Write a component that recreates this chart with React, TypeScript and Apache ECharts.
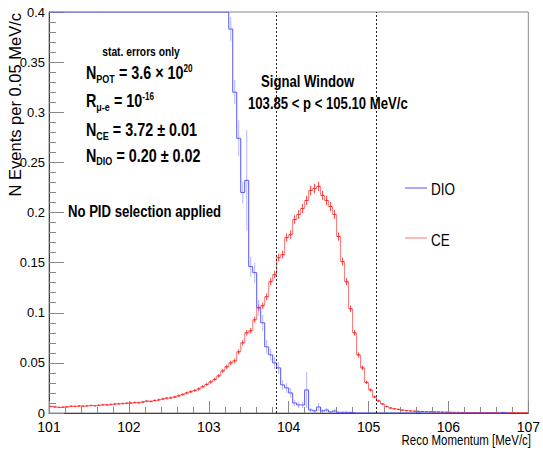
import React, { useEffect, useRef } from 'react';
import * as echarts from 'echarts';

const FR = "'Liberation Sans', Arial, sans-serif";
const SQUEEZE = 0.82;

const xMin = 101;
const xMax = 107;
const binWidth = 0.05;
const windowLow = 103.85;
const windowHigh = 105.1;

// DIO histogram (clipped at the frame top, 0.4, below 103.25 MeV/c)
const dioValues = [
  0.4, 0.4, 0.4, 0.4, 0.4, 0.4, 0.4, 0.4, 0.4, 0.4, 0.4, 0.4, 0.4, 0.4, 0.4,
  0.4, 0.4, 0.4, 0.4, 0.4, 0.4, 0.4, 0.4, 0.4, 0.4, 0.4, 0.4, 0.4, 0.4, 0.4,
  0.4, 0.4, 0.4, 0.4, 0.4, 0.4, 0.4, 0.4, 0.4, 0.4, 0.4, 0.4, 0.4, 0.4, 0.4,
  0.383, 0.320, 0.274, 0.220, 0.232, 0.146, 0.140, 0.105, 0.090, 0.066,
  0.058, 0.050, 0.045, 0.028, 0.025, 0.020, 0.010, 0.008, 0.008, 0.023,
  0.003, 0.002, 0.006, 0.002, 0.003, 0.001, 0.002, 0.0007, 0.0007, 0.0007,
  0.0005, 0, 0, 0, 0, 0, 0, 0, 0, 0,
  0, 0, 0, 0, 0, 0, 0, 0.0008, 0, 0,
  0, 0, 0, 0, 0, 0, 0, 0, 0, 0,
  0, 0, 0, 0, 0, 0, 0, 0, 0.0006, 0,
];
const dioErrors = [
  0, 0, 0, 0, 0, 0, 0, 0, 0, 0, 0, 0, 0, 0, 0,
  0, 0, 0, 0, 0, 0, 0, 0, 0, 0, 0, 0, 0, 0, 0,
  0, 0, 0, 0, 0, 0, 0, 0, 0, 0, 0, 0, 0, 0, 0,
  0.012, 0.012, 0.018, 0.011, 0.05, 0.01, 0.01, 0.008, 0.008, 0.007,
  0.006, 0.006, 0.006, 0.005, 0.005, 0.005, 0.003, 0.003, 0.003, 0.018,
  0.002, 0.002, 0.004, 0.002, 0.002, 0.001, 0.002, 0.001, 0.001, 0.001,
  0.001, 0, 0, 0, 0, 0, 0, 0, 0, 0,
  0, 0, 0, 0, 0, 0, 0, 0.001, 0, 0,
  0, 0, 0, 0, 0, 0, 0, 0, 0, 0,
  0, 0, 0, 0, 0, 0, 0, 0, 0.001, 0,
];

// CE histogram
const ceValues = [
  0.0065, 0.006, 0.0055, 0.0058, 0.0062, 0.0068, 0.0066, 0.007, 0.0068, 0.0072,
  0.0075, 0.0072, 0.0078, 0.0082, 0.008, 0.0086, 0.009, 0.0092, 0.0095, 0.0098,
  0.01, 0.0105, 0.0102, 0.011, 0.0118, 0.0115, 0.0125, 0.0132, 0.014, 0.0148,
  0.0152, 0.016, 0.0172, 0.0185, 0.02, 0.0212, 0.0225, 0.024, 0.0262, 0.0285,
  0.031, 0.0335, 0.037, 0.042, 0.046, 0.05, 0.052, 0.061, 0.07, 0.08,
  0.082, 0.093, 0.105, 0.107, 0.116, 0.131, 0.138, 0.155, 0.158, 0.175,
  0.178, 0.193, 0.198, 0.204, 0.212, 0.222, 0.224, 0.226, 0.217, 0.212,
  0.206, 0.198, 0.176, 0.151, 0.131, 0.104, 0.08, 0.058, 0.045, 0.0305,
  0.023, 0.016, 0.012, 0.009, 0.0065, 0.005, 0.0042, 0.0035, 0.0028, 0.0022,
  0.002, 0.0018, 0.0016, 0.0015, 0.0014, 0.0012, 0.0011, 0.001, 0.0009, 0.0008,
  0.0007, 0.0006, 0.0006, 0.0005, 0.0005, 0.0004, 0.0005, 0.0004, 0.0003, 0.0004,
  0.0003, 0.0003, 0.0002, 0.0003, 0.0002, 0.0002, 0.0003, 0.0002, 0.0002, 0.0001,
];
const ceErrors = [
  0.0008, 0.0008, 0.0008, 0.0008, 0.0008, 0.0008, 0.0008, 0.0008, 0.0008, 0.0008,
  0.0008, 0.0008, 0.0008, 0.0008, 0.0008, 0.0008, 0.0009, 0.0009, 0.0009, 0.0009,
  0.001, 0.001, 0.001, 0.001, 0.001, 0.001, 0.0011, 0.0011, 0.0012, 0.0012,
  0.0012, 0.0013, 0.0013, 0.0014, 0.0014, 0.0015, 0.0015, 0.0016, 0.0016, 0.0017,
  0.0018, 0.0018, 0.0019, 0.002, 0.0021, 0.0022, 0.0023, 0.0025, 0.0026, 0.0028,
  0.0028, 0.003, 0.0032, 0.0032, 0.0034, 0.0036, 0.0037, 0.0039, 0.0039, 0.0041,
  0.0042, 0.0043, 0.0044, 0.0045, 0.0046, 0.0047, 0.0047, 0.0047, 0.0046, 0.0046,
  0.0045, 0.0044, 0.0042, 0.0039, 0.0036, 0.0032, 0.0028, 0.0024, 0.0021, 0.0017,
  0.0015, 0.0013, 0.0011, 0.001, 0.0008, 0.0007, 0.0006, 0.0006, 0.0005, 0.0005,
  0.0004, 0.0004, 0.0004, 0.0004, 0.0004, 0.0003, 0.0003, 0.0003, 0.0003, 0.0003,
  0.0003, 0.0002, 0.0002, 0.0002, 0.0002, 0.0002, 0.0002, 0.0002, 0.0002, 0.0002,
  0.0002, 0.0002, 0.0001, 0.0002, 0.0001, 0.0001, 0.0002, 0.0001, 0.0001, 0.0001,
];

const yTickLabels = ['0', '0.05', '0.1', '0.15', '0.2', '0.25', '0.3', '0.35', '0.4'];

const DIO_COLOR = '#5555ff';
const DIO_ERR = 'rgba(120,120,255,0.55)';
const CE_COLOR = 'rgba(255,80,80,0.8)';
const CE_ERR = 'rgba(255,40,40,0.9)';

function stepData(values: number[]) {
  const pts: number[][] = [];
  values.forEach((v, i) => {
    const left = xMin + i * binWidth;
    pts.push([left, v]);
    pts.push([left + binWidth, v]);
  });
  return pts;
}

function errData(values: number[], errs: number[]) {
  return values.map((v, i) => [xMin + (i + 0.5) * binWidth, v, errs[i]]);
}

function makeErrRender(color: string, tick: boolean) {
  return (params: any, api: any) => {
    const x = api.value(0);
    const v = api.value(1);
    const e = api.value(2);
    if (!e) return null;
    const top = api.coord([x, Math.min(v + e, 0.4)]);
    const bot = api.coord([x, Math.max(v - e, 0)]);
    const mid = api.coord([x, v]);
    const children: any[] = [
      {
        type: 'line',
        shape: { x1: top[0], y1: top[1], x2: bot[0], y2: bot[1] },
        style: { stroke: color, lineWidth: 1 },
      },
    ];
    if (tick) {
      children.push({
        type: 'line',
        shape: { x1: mid[0] - 1.5, y1: mid[1], x2: mid[0] + 1.5, y2: mid[1] },
        style: { stroke: color, lineWidth: 1 },
      });
    }
    return { type: 'group', children };
  };
}

export default function App() {
  const ref = useRef<HTMLDivElement>(null);
  useEffect(() => {
    if (!ref.current) return;
    const chart = echarts.init(ref.current, undefined, { renderer: 'svg' });
    const txt = (
      text: string,
      x: number,
      y: number,
      size: number,
      bold: boolean,
      rich?: any,
      align = 'left'
    ) => ({
      type: 'text',
      x,
      y,
      scaleX: SQUEEZE,
      silent: true,
      style: {
        text,
        fontFamily: FR,
        fontWeight: bold ? 'bold' : 'normal',
        fontSize: size,
        fill: '#000',
        align,
        verticalAlign: 'middle',
        rich,
      },
    });
    const richMain = {
      sub: { fontFamily: FR, fontWeight: 'bold', fontSize: 11, padding: [12, 0, 0, 0], fill: '#000' },
      sup: { fontFamily: FR, fontWeight: 'bold', fontSize: 10, padding: [0, 0, 9, 0], fill: '#000' },
    };
    const option: any = {
      animation: false,
      grid: {
        left: 49,
        right: 9,
        top: 12,
        bottom: 40,
        show: true,
        borderColor: '#888',
        borderWidth: 1,
      },
      xAxis: {
        type: 'value',
        min: xMin,
        max: xMax,
        interval: 1,
        axisLine: { lineStyle: { color: '#444' } },
        axisTick: { inside: true, length: 12, lineStyle: { color: '#888' } },
        minorTick: { show: true, splitNumber: 5, length: 6, lineStyle: { color: '#888' } },
        splitLine: { show: false },
        axisLabel: { color: '#000', fontSize: 14, fontFamily: FR, margin: 7 },
      },
      yAxis: {
        type: 'value',
        min: 0,
        max: 0.4,
        interval: 0.05,
        axisLine: { show: true, lineStyle: { color: '#444' } },
        axisTick: { show: true, inside: true, length: 15, lineStyle: { color: '#888' } },
        minorTick: { show: true, splitNumber: 5, length: 7, lineStyle: { color: '#888' } },
        splitLine: { show: false },
        axisLabel: {
          color: '#000',
          fontSize: 13,
          fontFamily: FR,
          margin: 4,
          formatter: (v: number) => yTickLabels[Math.round(v / 0.05)] ?? '',
        },
      },
      series: [
        {
          name: 'CE',
          type: 'line',
          data: stepData(ceValues),
          showSymbol: false,
          symbol: 'none',
          lineStyle: { color: CE_COLOR, width: 1 },
          z: 2,
          markLine: {
            silent: true,
            symbol: ['none', 'none'],
            label: { show: false },
            lineStyle: { color: '#222', type: [2, 2], width: 1 },
            data: [{ xAxis: windowLow }, { xAxis: windowHigh }],
          },
        },
        {
          name: 'CEerr',
          type: 'custom',
          data: errData(ceValues, ceErrors),
          renderItem: makeErrRender(CE_ERR, true),
          clip: true,
          z: 3,
        },
        {
          name: 'DIO',
          type: 'line',
          data: stepData(dioValues),
          showSymbol: false,
          symbol: 'none',
          lineStyle: { color: DIO_COLOR, width: 1 },
          z: 4,
        },
        {
          name: 'DIOerr',
          type: 'custom',
          data: errData(dioValues, dioErrors),
          renderItem: makeErrRender(DIO_ERR, false),
          clip: true,
          z: 3,
        },
      ],
      graphic: [
        {
          type: 'text',
          x: 15,
          y: 13,
          rotation: Math.PI / 2,
          silent: true,
          style: {
            text: 'N Events per 0.05 MeV/c',
            fontFamily: FR,
            fontSize: 16.5,
            fill: '#000',
            align: 'right',
            verticalAlign: 'middle',
          },
        },
        txt('Reco Momentum [MeV/c]', 531, 440, 14, false, undefined, 'right'),
        txt('stat. errors only', 141, 52, 12.5, true, undefined, 'center'),
        txt('N{sub|POT} = 3.6 × 10{sup|20}', 86, 73, 17.5, true, richMain),
        txt('R{sub|μ-e} = 10{sup|-16}', 86, 101, 17.5, true, richMain),
        txt('N{sub|CE} = 3.72 ± 0.01', 86, 130, 17.5, true, richMain),
        txt('N{sub|DIO} = 0.20 ± 0.02', 86, 155.5, 17.5, true, richMain),
        txt('No PID selection applied', 68, 212, 16, true),
        txt('Signal Window', 261, 81.5, 16, true),
        txt('103.85 < p < 105.10 MeV/c', 248, 103.5, 16, true),
        {
          type: 'line',
          silent: true,
          shape: { x1: 405, y1: 188, x2: 427, y2: 188 },
          style: { stroke: DIO_COLOR, lineWidth: 1 },
        },
        txt('DIO', 431, 189, 16.5, false),
        {
          type: 'line',
          silent: true,
          shape: { x1: 405, y1: 238, x2: 427, y2: 238 },
          style: { stroke: CE_COLOR, lineWidth: 1 },
        },
        txt('CE', 431, 240, 16.5, false),
      ],
    };
    chart.setOption(option);
    return () => chart.dispose();
  }, []);
  return (
    <div
      ref={ref}
      style={{ position: 'absolute', left: 0, top: 0, width: 543, height: 453, background: '#fff' }}
    />
  );
}
